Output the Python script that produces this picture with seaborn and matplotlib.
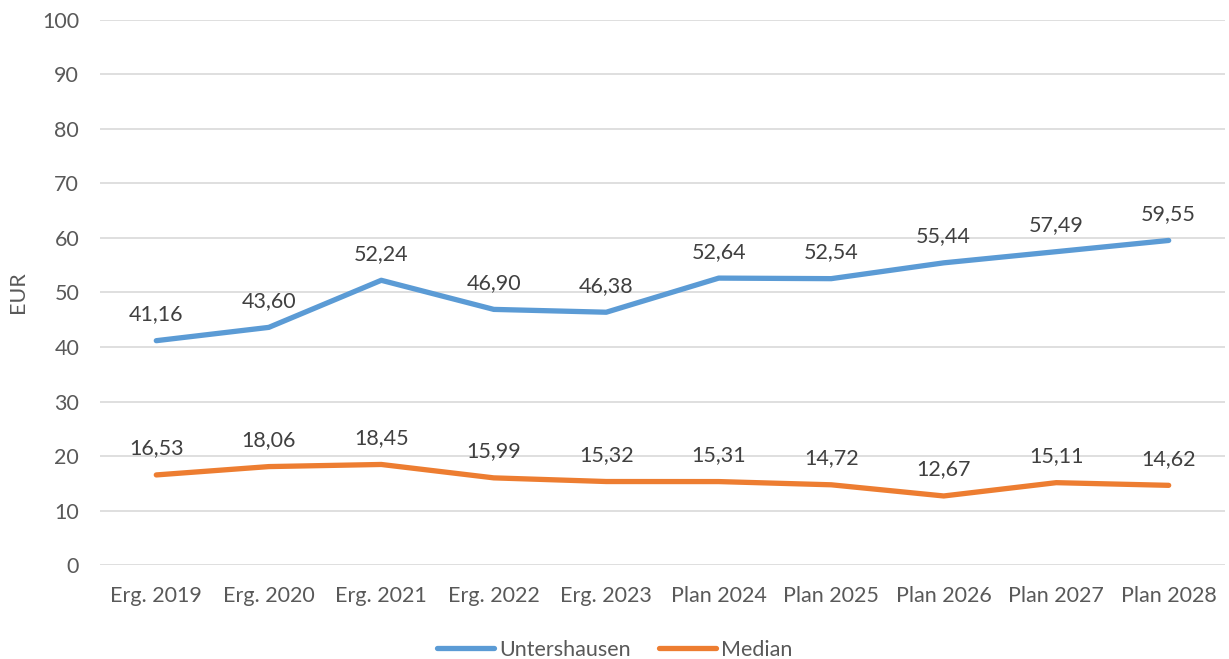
import matplotlib
matplotlib.use("Agg")
import matplotlib.pyplot as plt
import seaborn as sns
import pandas as pd

categories = ["Erg. 2019", "Erg. 2020", "Erg. 2021", "Erg. 2022", "Erg. 2023",
              "Plan 2024", "Plan 2025", "Plan 2026", "Plan 2027", "Plan 2028"]
untershausen = [41.16, 43.60, 52.24, 46.90, 46.38, 52.64, 52.54, 55.44, 57.49, 59.55]
median = [16.53, 18.06, 18.45, 15.99, 15.32, 15.31, 14.72, 12.67, 15.11, 14.62]

series_names = ["Untershausen", "Median"]
colors = ["#5B9BD5", "#ED7D31"]

df = pd.DataFrame({
    "Kategorie": categories * 2,
    "Wert": untershausen + median,
    "Reihe": [series_names[0]] * len(categories) + [series_names[1]] * len(categories),
})
df["x"] = list(range(len(categories))) * 2

sns.set_style("white")
plt.rcParams["font.family"] = ["Lato", "DejaVu Sans"]
text_col = "#595959"
fs = 15.5

fig = plt.figure(figsize=(12.29, 6.59), dpi=100)
ax = fig.add_axes([0.0814, 0.1426, 0.9153, 0.8271])

sns.lineplot(data=df, x="x", y="Wert", hue="Reihe", palette=colors,
             linewidth=3.8, ax=ax, legend=True, solid_capstyle="round")

for vals in (untershausen, median):
    for i, v in enumerate(vals):
        ax.annotate(f"{v:.2f}".replace(".", ","), (i, v), xytext=(0, 19),
                    textcoords="offset points", ha="center", va="center",
                    fontsize=fs, color="#404040")

ax.set_xlim(-0.5, len(categories) - 0.5)
ax.set_ylim(0, 100)
ax.set_yticks(range(0, 101, 10))
ax.set_xticks(range(len(categories)))
ax.set_xticklabels(categories)
ax.yaxis.grid(True, color="#D9D9D9", linewidth=1.2)
ax.set_axisbelow(True)
for s in ax.spines.values():
    s.set_visible(False)
ax.tick_params(axis="both", length=0, labelsize=fs, labelcolor=text_col)
ax.tick_params(axis="x", pad=15)
ax.tick_params(axis="y", pad=15)
ax.set_xlabel("")
ax.set_ylabel("EUR", fontsize=fs, color=text_col, labelpad=10)

handles, labels = ax.get_legend_handles_labels()
ax.get_legend().remove()
leg = fig.legend(handles, labels, loc="center", bbox_to_anchor=(0.5, 0.014),
                 ncol=2, frameon=False, fontsize=fs, handlelength=2.65,
                 handletextpad=0.25, columnspacing=1.3, borderpad=0)
for t in leg.get_texts():
    t.set_color(text_col)

fig.savefig("out.png", dpi=100)
